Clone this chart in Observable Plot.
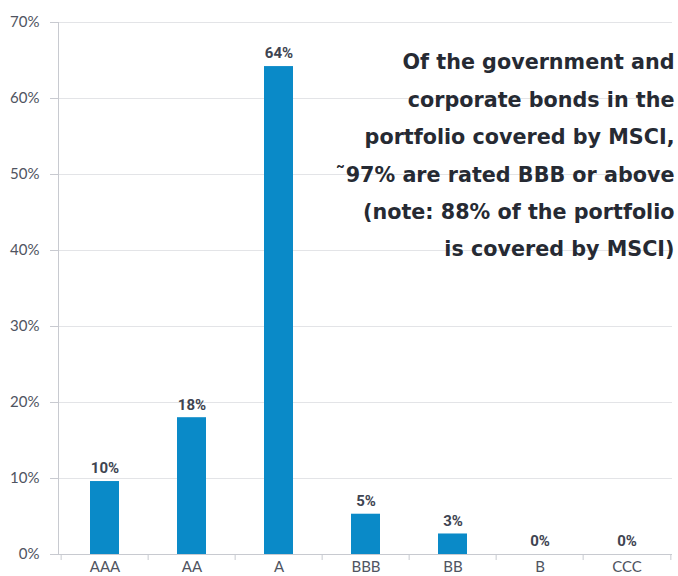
<!DOCTYPE html>
<html>
<head>
<meta charset="utf-8">
<script src="https://cdn.jsdelivr.net/npm/d3@7"></script>
<script src="https://cdn.jsdelivr.net/npm/@observablehq/plot@0.6"></script>
<style>
  html, body { margin: 0; padding: 0; background: #fff; overflow: hidden; }
  svg { display: block; }
</style>
</head>
<body>
<div id="chart"></div>
<script>
const ratings = ["AAA", "AA", "A", "BBB", "BB", "B", "CCC"];
const shares = [9.6, 18.0, 64.2, 5.3, 2.7, 0, 0];
const shareLabels = ["10%", "18%", "64%", "5%", "3%", "0%", "0%"];
const yTicks = [0, 10, 20, 30, 40, 50, 60, 70];
const note = "Of the government and\ncorporate bonds in the\nportfolio covered by MSCI,\n˜97% are rated BBB or above\n(note: 88% of the portfolio\nis covered by MSCI)";

const data = ratings.map((r, i) => ({rating: r, share: shares[i], label: shareLabels[i]}));

const W = 678, mL = 58, mR = 6;
const step = (W - mL - mR) / ratings.length;

const chart = Plot.plot({
  width: W,
  height: 576,
  marginTop: 22,
  marginLeft: mL,
  marginRight: mR,
  marginBottom: 22,
  style: {fontFamily: "Lato, 'Open Sans', sans-serif", background: "#fff"},
  x: {domain: ratings, paddingInner: 0.67, paddingOuter: 0.335, label: null},
  y: {domain: [0, 70], label: null},
  marks: [
    Plot.gridY(yTicks, {stroke: "#e3e4e7", strokeOpacity: 1}),
    Plot.axisY(yTicks, {tickSize: 8, tickPadding: 11, stroke: "#c8cad0", tickFormat: d => d + "%", fontSize: 15, fill: "#4f5461", label: null}),
    Plot.frame({anchor: "left", stroke: "#c8cad0"}),
    Plot.ruleY([0], {stroke: "#c8cad0"}),
    Plot.axisX({tickSize: 0, tickPadding: 7, fontSize: 15, fill: "#4f5461", label: null}),
    Plot.axisX({tickSize: 6, text: null, stroke: "#c8cad0", dx: -step / 2, label: null}),
    Plot.axisX(["CCC"], {tickSize: 6, text: null, stroke: "#c8cad0", dx: step / 2, label: null}),
    Plot.barY(data, {x: "rating", y: "share", fill: "#0a8ac8"}),
    Plot.text(data, {x: "rating", y: "share", text: "label", dy: -13, fontSize: 15, fontWeight: "bold", fill: "#3e4451", fontFamily: "Roboto, sans-serif"}),
    Plot.text([note], {frameAnchor: "top-right", text: d => d, textAnchor: "end", lineAnchor: "top", dx: 2, dy: 20, lineHeight: 1.81, fontSize: 20.7, fontWeight: "bold", fill: "#262a33", fontFamily: "'DejaVu Sans', sans-serif"})
  ]
});
document.getElementById("chart").appendChild(chart);
</script>
</body>
</html>
